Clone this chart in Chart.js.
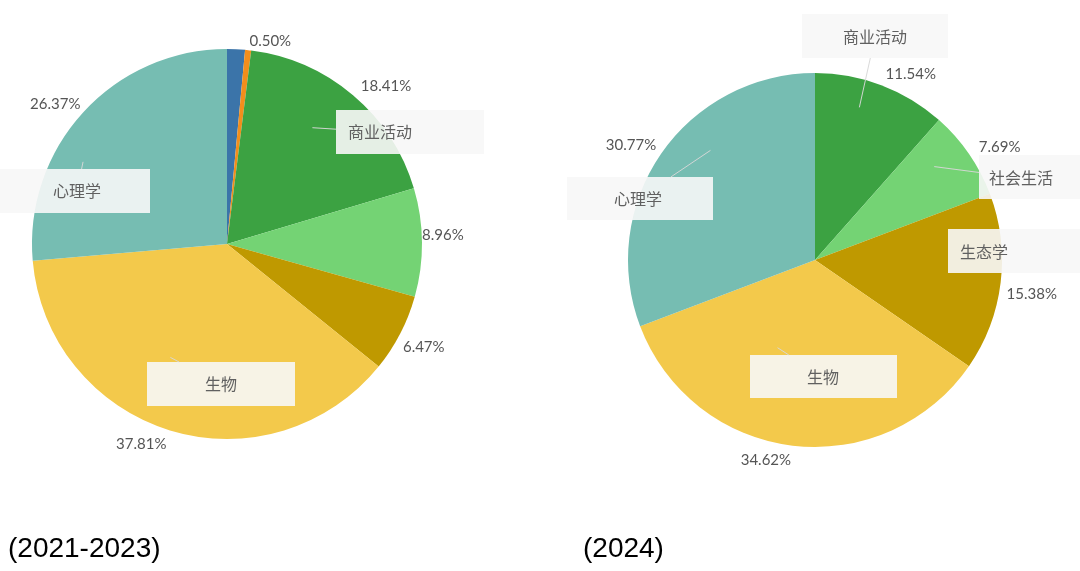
<!DOCTYPE html>
<html>
<head>
<meta charset="utf-8">
<script src="https://cdn.jsdelivr.net/npm/chart.js@4.4.1/dist/chart.umd.min.js"></script>
<style>
  html, body { margin: 0; padding: 0; background: #ffffff; }
  body { width: 1080px; height: 571px; position: relative; overflow: hidden; }
  .pane { position: absolute; top: 0; width: 540px; height: 571px; }
  #paneL { left: 0; }
  #paneR { left: 540px; }
  .caption { position: absolute; font-family: "Liberation Sans", Arial, sans-serif; font-size: 28px; line-height: 28px; color: #000; top: 534px; white-space: nowrap; }
</style>
</head>
<body>
<div class="pane" id="paneL"><canvas id="chartL" width="540" height="571"></canvas></div>
<div class="pane" id="paneR"><canvas id="chartR" width="540" height="571"></canvas></div>
<div class="caption" style="left:8px;">(2021-2023)</div>
<div class="caption" style="left:583px;">(2024)</div>
<script>
// ---------- DATA ----------
// Period 2021-2023 (clockwise from 12 o'clock)
const leftCategories = ['其他-1', '其他-2', '商业活动', '社会生活', '生态学', '生物', '心理学'];
const leftValues     = [1.48, 0.50, 18.41, 8.96, 6.47, 37.81, 26.37];
const leftShowPct    = [false, true, true, true, true, true, true];

// Period 2024 (clockwise from 12 o'clock)
const rightCategories = ['商业活动', '社会生活', '生态学', '生物', '心理学'];
const rightValues     = [11.54, 7.69, 15.38, 34.62, 30.77];
const rightShowPct    = [true, true, true, true, true];

const captions = ['(2021-2023)', '(2024)'];

// ---------- STYLE ----------
const categoryColors = {
  '其他-1': '#3b74a9',
  '其他-2': '#f28e1c',
  '商业活动': '#3ca242',
  '社会生活': '#74d374',
  '生态学': '#bf9900',
  '生物': '#f3c94b',
  '心理学': '#76bdb2'
};

// small label nudges (px) so percentage labels sit where the original placed them
const leftPctNudge  = [[0, 0], [0, 3], [0, 0], [-12, -7], [-8, 8], [0, 2], [6, 0]];
const rightPctNudge = [[0, 0], [0, 0], [-6, 10], [0, 3], [5, -2]];

// Category call-out boxes: slice index, anchor (fraction through slice angle, fraction of radius),
// box rect and text centre relative to the pie centre (px).
const leftCallouts = [
  { i: 2, af: 0.44, rf: 0.74, box: [109, -134, 148, 44], text: [153, -112] },
  { i: 6, af: 0.365, rf: 0.85, box: [-250, -75, 173, 44], text: [-150, -53] },
  { i: 5, af: 0.57, rf: 0.65, box: [-80, 118, 148, 44], text: [-6, 140] }
];
const rightCallouts = [
  { i: 0, af: 0.39, rf: 0.85, box: [-13, -246, 146, 44], text: [60, -223] },
  { i: 1, af: 0.375, rf: 0.81, box: [164, -105, 148, 44], text: [206, -82] },
  { i: 2, af: null, rf: null, box: [133, -31, 148, 44], text: [169, -8] },
  { i: 3, af: 0.63, rf: 0.51, box: [-65, 95, 147, 43], text: [8, 117] },
  { i: 4, af: 0.606, rf: 0.81, box: [-248, -83, 146, 43], text: [-177, -61] }
];

const pctFont = '15px Lato, "Open Sans", sans-serif';
const catFont = '16px "Noto Sans CJK SC", sans-serif';

function segmentBoxIntersection(ax, ay, tx, ty, bx, by, bw, bh) {
  let best = 1;
  const dx = tx - ax, dy = ty - ay;
  const check = (t) => {
    if (t < 0 || t > 1) return;
    const x = ax + dx * t, y = ay + dy * t;
    if (x >= bx - 0.01 && x <= bx + bw + 0.01 && y >= by - 0.01 && y <= by + bh + 0.01) {
      if (t < best) best = t;
    }
  };
  if (dx !== 0) { check((bx - ax) / dx); check((bx + bw - ax) / dx); }
  if (dy !== 0) { check((by - ay) / dy); check((by + bh - ay) / dy); }
  return [ax + dx * best, ay + dy * best];
}

const labelPlugin = {
  id: 'pieLabels',
  afterDraw(chart, args, opts) {
    const ctx = chart.ctx;
    const meta = chart.getDatasetMeta(0);
    const values = chart.data.datasets[0].data;
    ctx.save();
    // percentage labels
    ctx.font = pctFont;
    ctx.fillStyle = '#555555';
    ctx.textBaseline = 'middle';
    meta.data.forEach((arc, i) => {
      if (!opts.showPct[i]) return;
      const mid = (arc.startAngle + arc.endAngle) / 2;
      const R = arc.outerRadius + 12;
      const nd = opts.nudge[i] || [0, 0];
      const x = arc.x + Math.cos(mid) * R + nd[0];
      const y = arc.y + Math.sin(mid) * R + nd[1];
      const c = Math.cos(mid);
      ctx.textAlign = c > 0.05 ? 'left' : (c < -0.05 ? 'right' : 'center');
      ctx.fillText(values[i].toFixed(2) + '%', x, y);
    });
    // category call-outs
    const cx = meta.data[0].x, cy = meta.data[0].y;
    opts.callouts.forEach(co => {
      const arc = meta.data[co.i];
      const bx = cx + co.box[0], by = cy + co.box[1], bw = co.box[2], bh = co.box[3];
      const tx = cx + co.text[0], ty = cy + co.text[1];
      ctx.fillStyle = 'rgba(247,247,247,0.9)';
      ctx.fillRect(bx, by, bw, bh);
      if (co.af !== null) {
        const ang = arc.startAngle + co.af * (arc.endAngle - arc.startAngle);
        const ax = cx + Math.cos(ang) * arc.outerRadius * co.rf;
        const ay = cy + Math.sin(ang) * arc.outerRadius * co.rf;
        const [ex, ey] = segmentBoxIntersection(ax, ay, tx, ty, bx, by, bw, bh);
        ctx.strokeStyle = 'rgba(215,215,215,0.95)';
        ctx.lineWidth = 1;
        ctx.beginPath();
        ctx.moveTo(ax, ay);
        ctx.lineTo(ex, ey);
        ctx.stroke();
      }
      ctx.font = catFont;
      ctx.fillStyle = '#606060';
      ctx.textAlign = 'center';
      ctx.textBaseline = 'middle';
      ctx.fillText(chart.data.labels[co.i], tx, ty);
    });
    ctx.restore();
  }
};

function makePie(canvasId, labels, values, showPct, nudge, callouts, padding) {
  return new Chart(document.getElementById(canvasId), {
    type: 'pie',
    data: {
      labels: labels,
      datasets: [{
        data: values,
        backgroundColor: labels.map(l => categoryColors[l]),
        borderWidth: 0,
        hoverOffset: 0
      }]
    },
    options: {
      responsive: false,
      animation: false,
      devicePixelRatio: 1,
      layout: { padding: padding },
      events: [],
      plugins: {
        legend: { display: false },
        tooltip: { enabled: false },
        pieLabels: { showPct: showPct, nudge: nudge, callouts: callouts }
      }
    },
    plugins: [labelPlugin]
  });
}

makePie('chartL', leftCategories, leftValues, leftShowPct, leftPctNudge, leftCallouts,
  { left: 32, right: 118, top: 49, bottom: 132 });
makePie('chartR', rightCategories, rightValues, rightShowPct, rightPctNudge, rightCallouts,
  { left: 88, right: 78, top: 73, bottom: 124 });
</script>
</body>
</html>
